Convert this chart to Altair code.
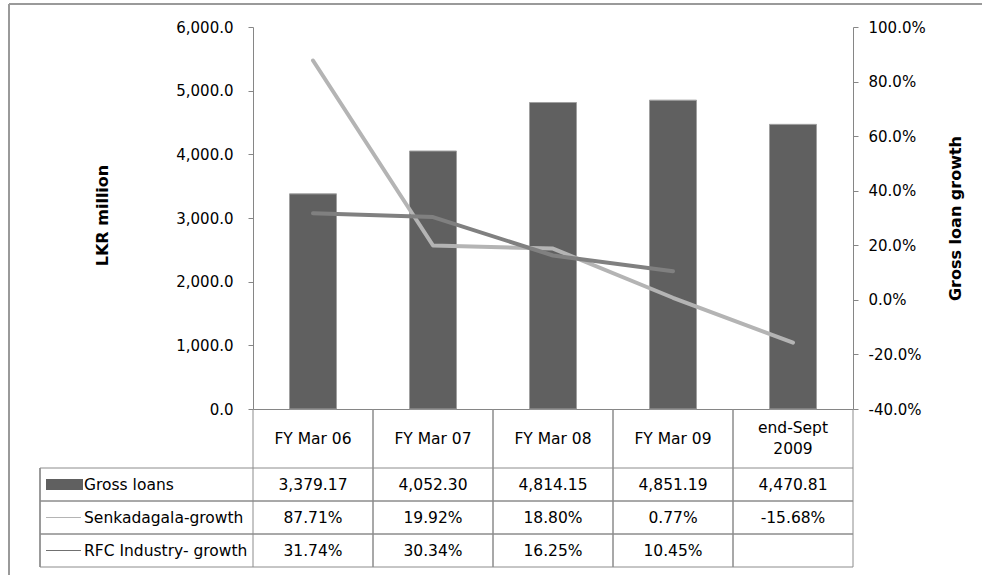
import altair as alt
import pandas as pd

# ---- data -------------------------------------------------------------
categories = ["FY Mar 06", "FY Mar 07", "FY Mar 08", "FY Mar 09", "end-Sept\n2009"]
gross_loans = [3379.17, 4052.30, 4814.15, 4851.19, 4470.81]          # LKR million
senkadagala_growth = [87.71, 19.92, 18.80, 0.77, -15.68]             # %
rfc_growth = [31.74, 30.34, 16.25, 10.45, None]                      # %
row_names = ["Gross loans", "Senkadagala-growth", "RFC Industry- growth"]
left_ticks = [0, 1000, 2000, 3000, 4000, 5000, 6000]
right_ticks = [-40, -20, 0, 20, 40, 60, 80, 100]

# ---- layout (pixels, relative to the plot area) ------------------------
W, H = 600, 382
HEADER_MID = 411.5
HEADER_LINE_HEIGHT = 21
TABLE_TOP, TABLE_BOTTOM = 441, 540
LEGEND_LEFT = -213
FONT = "DejaVu Sans"
TABLE_FONT_SIZE = 15.5
AXIS_GREY = "#868686"
GRID_GREY = "#8c8c8c"

loans_df = pd.DataFrame({"cat": categories, "loans": gross_loans})

growth_rows = []
for name, vals in [("Senkadagala-growth", senkadagala_growth),
                   ("RFC Industry- growth", rfc_growth)]:
    for c, v in zip(categories, vals):
        if v is not None:
            growth_rows.append({"cat": c, "series": name, "value": v})
growth_df = pd.DataFrame(growth_rows)

table_rows = []
for c, g, s, r in zip(categories, gross_loans, senkadagala_growth, rfc_growth):
    table_rows.append({"cat": c, "row": row_names[0], "label": f"{g:,.2f}"})
    table_rows.append({"cat": c, "row": row_names[1], "label": f"{s:.2f}%"})
    table_rows.append({"cat": c, "row": row_names[2],
                       "label": "" if r is None else f"{r:.2f}%"})
table_df = pd.DataFrame(table_rows)
cats_df = pd.DataFrame({"cat": categories})
rows_df = pd.DataFrame({"row": row_names})

x_scale = alt.Scale(domain=categories, paddingInner=0, paddingOuter=0)
x_axis = alt.Axis(labels=False, ticks=False, title=None, grid=False,
                  domainColor=AXIS_GREY, domainWidth=1)


def xenc(**kw):
    return alt.X("cat:N", scale=x_scale, axis=x_axis, **kw)


row_scale = alt.Scale(domain=row_names, range=[TABLE_TOP, TABLE_BOTTOM],
                      paddingInner=0, paddingOuter=0)
yrow = alt.Y("row:N", scale=row_scale, axis=None)

# ---- bars: gross loans on the left axis --------------------------------
bars = alt.Chart(loans_df).mark_bar(
    size=47, color="#606060", stroke="#a0a0a0", strokeWidth=1
).encode(
    x=xenc(),
    y=alt.Y("loans:Q",
            scale=alt.Scale(domain=[0, 6000], nice=False),
            axis=alt.Axis(orient="left", values=left_ticks, format=",.1f",
                          labelPadding=15,
                          title="LKR million", titleX=-151, titleY=H / 2 - 3,
                          titleAngle=270, titleBaseline="middle",
                          titleAlign="center", grid=False)),
)

# ---- growth lines on the right axis ------------------------------------
right_axis = alt.Axis(orient="right", values=right_ticks, labelPadding=10,
                      labelExpr="(datum.value < 0 ? '-' : '') + format(abs(datum.value), '.1f') + '%'",
                      title="Gross loan growth", titleX=102, titleY=H / 2,
                      titleAngle=270, titleBaseline="middle",
                      titleAlign="center", grid=False)
growth_scale = alt.Scale(domain=[-40, 100], nice=False)

senk_line = alt.Chart(growth_df).transform_filter(
    alt.datum.series == "Senkadagala-growth"
).mark_line(color="#b4b4b4", strokeWidth=4, strokeCap="round", strokeJoin="round").encode(
    x=xenc(),
    y=alt.Y("value:Q", scale=growth_scale, axis=right_axis),
)

rfc_line = alt.Chart(growth_df).transform_filter(
    alt.datum.series == "RFC Industry- growth"
).mark_line(color="#808080", strokeWidth=4, strokeCap="round", strokeJoin="round").encode(
    x=xenc(),
    y=alt.Y("value:Q", scale=growth_scale, axis=None),
)

# ---- data table under the plot -----------------------------------------
# single-line headers sit on the row centre; two-line headers are lifted
# by half a line so the block is centred as well
header_single = alt.Chart(cats_df).transform_filter(
    "indexof(datum.cat, '\\n') < 0"
).mark_text(
    font=FONT, fontSize=TABLE_FONT_SIZE, baseline="middle", color="#000000"
).encode(x=xenc(), y=alt.value(HEADER_MID), text="cat:N")

header_double = alt.Chart(cats_df).transform_filter(
    "indexof(datum.cat, '\\n') >= 0"
).mark_text(
    font=FONT, fontSize=TABLE_FONT_SIZE, baseline="middle", lineBreak="\n",
    lineHeight=HEADER_LINE_HEIGHT, dy=-HEADER_LINE_HEIGHT / 2, color="#000000"
).encode(x=xenc(), y=alt.value(HEADER_MID), text="cat:N")

col_left = alt.Chart(cats_df).mark_rule(color=GRID_GREY, strokeWidth=1).encode(
    x=xenc(bandPosition=0), y=alt.value(H), y2=alt.value(TABLE_BOTTOM))
col_right = alt.Chart(cats_df).mark_rule(color=GRID_GREY, strokeWidth=1).encode(
    x=xenc(bandPosition=1), y=alt.value(H), y2=alt.value(TABLE_BOTTOM))

row_top = alt.Chart(rows_df).mark_rule(color=GRID_GREY, strokeWidth=1).encode(
    y=alt.Y("row:N", scale=row_scale, axis=None, bandPosition=0),
    x=alt.value(LEGEND_LEFT), x2=alt.value(W))
row_bottom = alt.Chart(rows_df).mark_rule(color=GRID_GREY, strokeWidth=1).encode(
    y=alt.Y("row:N", scale=row_scale, axis=None, bandPosition=1),
    x=alt.value(LEGEND_LEFT), x2=alt.value(W))
legend_edge = alt.Chart(rows_df).mark_rule(color=GRID_GREY, strokeWidth=1).encode(
    x=alt.value(LEGEND_LEFT), y=alt.value(TABLE_TOP), y2=alt.value(TABLE_BOTTOM))

cell_text = alt.Chart(table_df).mark_text(
    font=FONT, fontSize=TABLE_FONT_SIZE, baseline="middle", color="#000000"
).encode(x=xenc(), y=yrow, text="label:N")

legend_text = alt.Chart(rows_df).mark_text(
    font=FONT, fontSize=TABLE_FONT_SIZE, baseline="middle", align="left",
    color="#000000"
).encode(x=alt.value(-169), y=yrow, text="row:N")

swatch_bar = alt.Chart(rows_df).transform_filter(
    alt.datum.row == row_names[0]
).mark_rule(color="#606060", strokeWidth=11).encode(
    x=alt.value(-207), x2=alt.value(-170), y=yrow)
swatch_senk = alt.Chart(rows_df).transform_filter(
    alt.datum.row == row_names[1]
).mark_rule(color="#b4b4b4", strokeWidth=1).encode(
    x=alt.value(-207), x2=alt.value(-172), y=yrow)
swatch_rfc = alt.Chart(rows_df).transform_filter(
    alt.datum.row == row_names[2]
).mark_rule(color="#707070", strokeWidth=1).encode(
    x=alt.value(-207), x2=alt.value(-172), y=yrow)

# ---- chart-area frame ---------------------------------------------------
frame_top = alt.Chart(cats_df).mark_rule(color="#9a9a9a", strokeWidth=2).encode(
    x=alt.value(-244), x2=alt.value(729), y=alt.value(-23))
frame_left = alt.Chart(cats_df).mark_rule(color="#9a9a9a", strokeWidth=2).encode(
    x=alt.value(-244), y=alt.value(-23), y2=alt.value(548))

chart = alt.layer(
    bars, senk_line, rfc_line,
    col_left, col_right, row_top, row_bottom, legend_edge,
    header_single, header_double, cell_text, legend_text,
    swatch_bar, swatch_senk, swatch_rfc,
    frame_top, frame_left,
).resolve_scale(
    y="independent"
).properties(
    width=W, height=H,
    autosize=alt.AutoSizeParams(type="none"),
    padding={"left": 253, "top": 27, "right": 129, "bottom": 166},
    background="#ffffff",
).configure_view(
    strokeWidth=0
).configure_axis(
    labelFont=FONT, labelFontSize=15, labelColor="#000000",
    titleFont=FONT, titleFontSize=16, titleFontWeight="bold", titleColor="#000000",
    domainColor=AXIS_GREY, tickColor=AXIS_GREY, tickSize=5,
)

chart.save("out.html", embed_options={"renderer": "svg", "actions": False})
